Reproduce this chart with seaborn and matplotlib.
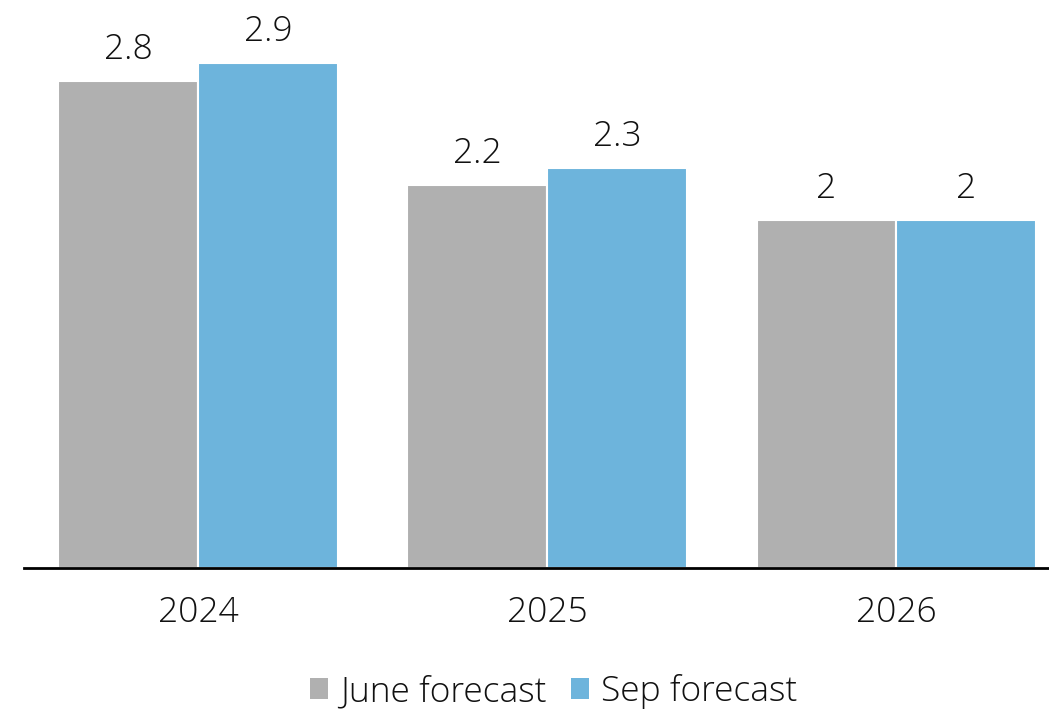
import matplotlib
matplotlib.use("Agg")
import matplotlib.pyplot as plt
import seaborn as sns
import pandas as pd
from matplotlib.patches import Patch

years = ["2024", "2025", "2026"]
june_forecast = [2.8, 2.2, 2.0]
sep_forecast = [2.9, 2.3, 2.0]
series_names = ["June forecast", "Sep forecast"]
colors = ["#b0b0b0", "#6db4dc"]

df = pd.DataFrame({
    "year": years * 2,
    "value": june_forecast + sep_forecast,
    "series": [series_names[0]] * 3 + [series_names[1]] * 3,
})

sns.set_theme(style="white")
plt.rcParams["font.family"] = ["Open Sans", "DejaVu Sans"]
plt.rcParams["font.weight"] = 300

FS = 25.5

fig = plt.figure(figsize=(10.49, 7.09), dpi=100)
ax = fig.add_axes([24 / 1049, (709 - 568) / 709, 1 - 24 / 1049, 568 / 709])

sns.barplot(data=df, x="year", y="value", hue="series", palette=colors,
            width=0.8, edgecolor="white", linewidth=1.5, saturation=1,
            ax=ax, legend=False)

ax.set_xlim(-0.4986, 2.438)
ax.set_ylim(0, 3.264)

for container in ax.containers:
    labels = [f"{v:g}" for v in container.datavalues]
    ax.bar_label(container, labels=labels, padding=10, fontsize=FS, color="#111111")

for s in ["top", "right", "left"]:
    ax.spines[s].set_visible(False)
ax.spines["bottom"].set_color("black")
ax.spines["bottom"].set_linewidth(2)
ax.set_yticks([])
ax.set_xlabel("")
ax.set_ylabel("")
ax.tick_params(axis="x", labelsize=FS, colors="#111111", pad=20, length=0)

handles = [Patch(facecolor=c, edgecolor="none") for c in colors]
fig.legend(handles, series_names, loc="lower center", bbox_to_anchor=(0.528, -0.045),
           ncol=2, frameon=False, fontsize=FS, handlelength=0.5, handleheight=0.5,
           handletextpad=0.35, columnspacing=0.7, labelcolor="#111111")

fig.savefig("out.png", dpi=100)
